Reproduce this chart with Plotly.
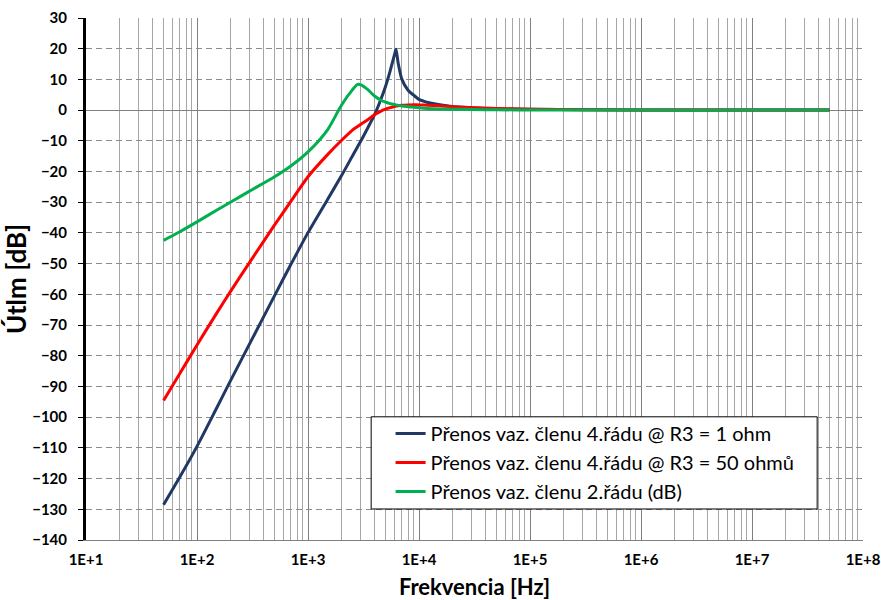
import plotly.graph_objects as go

# Frequencies (Hz)
freq = [50, 70, 100, 150, 200, 300, 500, 700, 1000, 1500, 2000, 2500, 2800, 3000, 3500,
        4000, 4500, 5000, 5500, 6000, 6200, 6500, 7000, 8000, 9000, 10000, 12000,
        15000, 20000, 30000, 50000, 100000, 1000000, 10000000, 50000000]

# Přenos vaz. členu 4.řádu @ R3 = 1 ohm
blue_db = [-128.5, -119.5, -109.5, -97.1, -88.2, -75.9, -60.4, -50.3, -39.9, -29.1,
           -21.4, -15.1, -11.9, -10.0, -5.4, -1.3, 3.2, 7.8, 12.8, 17.9, 19.8, 15.2, 10.1,
           6.4, 4.8, 3.5, 2.5, 1.83, 1.15, 0.8, 0.5, 0.25, 0.02, 0.0, 0.0]

# Přenos vaz. členu 4.řádu @ R3 = 50 ohmů
red_db = [-94.6, -85.8, -76.5, -66.2, -59.1, -49.4, -37.4, -29.75, -21.7, -14.5,
          -9.9, -6.6, -5.35, -4.6, -3.0, -1.4, -0.4, 0.3, 0.8, 1.2, 1.3, 1.45, 1.6,
          1.7, 1.75, 1.7, 1.6, 1.4, 1.1, 0.8, 0.5, 0.25, 0.02, 0.0, 0.0]

# Přenos vaz. členu 2.řádu (dB)
green_db = [-42.4, -39.6, -36.4, -32.6, -30.0, -26.3, -21.7, -18.2, -13.6, -6.4,
            1.6, 6.5, 8.4, 8.2, 6.5, 4.5, 3.3, 2.6, 2.1, 1.8, 1.7, 1.55, 1.35,
            1.1, 0.9, 0.75, 0.55, 0.4, 0.3, 0.2, 0.1, 0.05, 0.0, 0.0, 0.0]

series_names = ["Přenos vaz. členu 4.řádu @ R3 = 1 ohm",
                "Přenos vaz. členu 4.řádu @ R3 = 50 ohmů",
                "Přenos vaz. členu 2.řádu (dB)"]
series_colors = ["#1F3864", "#FF0000", "#00B050"]

x_tickvals = [1e1, 1e2, 1e3, 1e4, 1e5, 1e6, 1e7, 1e8]
x_ticktext = ["1E+1", "1E+2", "1E+3", "1E+4", "1E+5", "1E+6", "1E+7", "1E+8"]
x_minor = [m * 10 ** d for d in range(1, 8) for m in range(2, 10)]

FONT = "Lato"

fig = go.Figure()
for vals, name, col in zip([blue_db, red_db, green_db], series_names, series_colors):
    fig.add_trace(go.Scatter(x=freq, y=vals, mode="lines", name=name,
                             line=dict(color=col, width=3, shape="spline", smoothing=0.7)))

fig.update_xaxes(type="log", range=[1, 8], tickmode="array", tickvals=x_tickvals,
                 ticktext=x_ticktext, showgrid=True, gridcolor="#808080", gridwidth=1,
                 griddash="solid",
                 minor=dict(tickmode="array", tickvals=x_minor, showgrid=True,
                            gridcolor="#a6a6a6", gridwidth=1, griddash="solid", ticks=""),
                 showline=True, linecolor="#808080", linewidth=1, ticks="",
                 zeroline=False, automargin=False, ticklabelstandoff=6,
                 tickfont=dict(family=FONT, size=15, color="black", weight="bold"),
                 title=dict(text="<b>Frekvencia [Hz]</b>", font=dict(family=FONT, size=22, color="black"),
                            standoff=14))

fig.update_yaxes(range=[-140, 30], dtick=10, tick0=0, showgrid=True, gridcolor="#8c8c8c",
                 griddash="6px,4px", gridwidth=1, zeroline=True, zerolinecolor="#808080",
                 zerolinewidth=1, showline=True, linecolor="black", linewidth=3,
                 ticks="outside", ticklen=5, tickcolor="black", tickwidth=1,
                 automargin=False, ticklabelstandoff=8,
                 tickfont=dict(family=FONT, size=15, color="black", weight="bold"),
                 title=dict(text="<b>Útlm [dB]</b>", font=dict(family=FONT, size=26, color="black"),
                            standoff=12))

# legend frame
fig.add_shape(type="rect", xref="paper", yref="paper", x0=0.367, x1=0.941, y0=0.0594, y1=0.236,
              fillcolor="white", line=dict(color="black", width=1), layer="above")

fig.update_layout(width=881, height=600, plot_bgcolor="white", paper_bgcolor="white",
                  margin=dict(l=86, r=18, t=18, b=60),
                  showlegend=True,
                  legend=dict(x=0.392, y=0.2414, xanchor="left", yanchor="top",
                              bgcolor="rgba(0,0,0,0)", borderwidth=0,
                              itemwidth=30,
                              font=dict(family=FONT, size=20, color="black")))

fig.write_html("out.html", config={"displayModeBar": False},
               post_script="document.body.style.margin='0';document.body.style.overflow='hidden';")
